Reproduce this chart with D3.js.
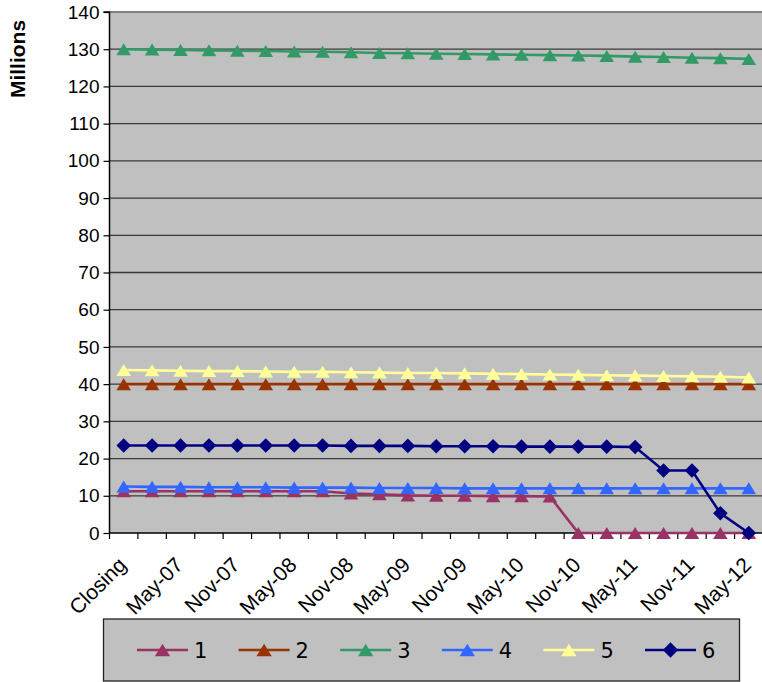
<!DOCTYPE html>
<html><head><meta charset="utf-8">
<script src="https://cdn.jsdelivr.net/npm/d3@7"></script>
<style>body{margin:0;background:#fff;}svg{display:block;}</style>
</head><body>
<svg id="c" width="762" height="682"></svg>
<script>
const categories = ["Closing","Feb-07","May-07","Aug-07","Nov-07","Feb-08","May-08","Aug-08","Nov-08","Feb-09","May-09","Aug-09","Nov-09","Feb-10","May-10","Aug-10","Nov-10","Feb-11","May-11","Aug-11","Nov-11","Feb-12","May-12"];
const seriesNames = ["1","2","3","4","5","6"];
const s1 = [11.2,11.2,11.2,11.2,11.2,11.2,11.2,11.2,10.6,10.4,10.1,10.0,10.0,9.9,9.9,9.8,0,0,0,0,0,0,0];
const s2 = [40,40,40,40,40,40,40,40,40,40,40,40,40,40,40,40,40,40,40,40,40,40,40];
const s3 = [130,129.9,129.8,129.7,129.6,129.5,129.4,129.3,129.2,129.0,128.9,128.8,128.7,128.6,128.5,128.4,128.3,128.2,128.0,127.9,127.7,127.6,127.4];
const s4 = [12.5,12.4,12.4,12.3,12.3,12.3,12.2,12.2,12.2,12.1,12.1,12.1,12.0,12.0,12.0,12.0,12.0,12.0,12.0,12.0,12.0,12.0,12.0];
const s5 = [43.8,43.7,43.6,43.5,43.5,43.4,43.3,43.3,43.2,43.1,43.0,43.0,42.9,42.8,42.7,42.6,42.5,42.4,42.3,42.2,42.1,42.0,41.8];
const s6 = [23.5,23.5,23.5,23.5,23.5,23.5,23.5,23.5,23.4,23.4,23.4,23.3,23.3,23.3,23.2,23.2,23.2,23.2,23.1,16.8,16.8,5.3,0];
const yTicks = [0,10,20,30,40,50,60,70,80,90,100,110,120,130,140];
const xLabels = ["Closing","May-07","Nov-07","May-08","Nov-08","May-09","Nov-09","May-10","Nov-10","May-11","Nov-11","May-12"];

const colors = ["#993366","#993300","#339966","#3366FF","#FFFF99","#000080"];
const shapes = ["tri","tri","tri","tri","tri","dia"];
const data = [s1,s2,s3,s4,s5,s6];

const svg = d3.select("#c");
const L = 109.5, R = 763, T = 12, B = 533;
const x = d3.scaleBand().domain(categories).range([L, R]);
const y = d3.scaleLinear().domain([0,140]).range([B, T]);
const font = "'Liberation Sans', Arial, sans-serif";

svg.append("rect").attr("x", L).attr("y", T).attr("width", R-L).attr("height", B-T).attr("fill", "#C0C0C0");

svg.append("g").selectAll("line").data(yTicks.filter(d=>d>0 && d<140)).join("line")
  .attr("x1", L).attr("x2", R).attr("y1", d=>y(d)).attr("y2", d=>y(d))
  .attr("stroke", "#3a3a3a").attr("stroke-width", 1.3);
svg.append("line").attr("x1", L).attr("x2", R).attr("y1", T).attr("y2", T).attr("stroke", "#808080").attr("stroke-width", 2);

const ya = d3.axisLeft(y).tickValues(yTicks).tickSize(6).tickPadding(4).tickFormat(d3.format("d"));
const yg = svg.append("g").attr("transform", `translate(${L},0)`).call(ya);
yg.select(".domain").attr("stroke", "#000").attr("stroke-width", 1.5).attr("d", `M-6,${y(140)}H0V${B}`);
yg.selectAll(".tick line").attr("stroke", "#000").attr("stroke-width", 1.2);
yg.selectAll("text").attr("font-family", font).attr("font-size", 19).attr("fill", "#000");

const xg = svg.append("g");
xg.append("line").attr("x1", L).attr("x2", R).attr("y1", B).attr("y2", B).attr("stroke", "#000").attr("stroke-width", 1.5);
const bounds = categories.map(c => x(c));
xg.selectAll("line.t").data(bounds).join("line").attr("class","t")
  .attr("x1", d=>d).attr("x2", d=>d).attr("y1", B).attr("y2", B+6).attr("stroke", "#000").attr("stroke-width", 1.2);
xg.selectAll("text").data(xLabels).join("text")
  .attr("transform", (d,i) => `translate(${x(categories[i*2]) + x.bandwidth()/2 - 1.5},${B+28}) rotate(-45)`)
  .attr("text-anchor", "end").attr("dy", "0.35em")
  .attr("font-family", font).attr("font-size", 21).attr("fill", "#000").text(d=>d);

svg.append("text").attr("transform", "translate(25,59) rotate(-90)").attr("text-anchor", "middle")
  .attr("font-family", font).attr("font-size", 21).attr("font-weight", "bold").text("Millions");

const cx = i => x(categories[i]) + x.bandwidth()/2;
const line = d3.line().x((d,i)=>cx(i)).y(d=>y(d));
const markerPath = (s, k) => s === "tri"
  ? `M0,${-6*k}L${7.3*k},${6*k}L${-7.3*k},${6*k}Z`
  : `M0,${-7.3*k}L${7.3*k},0L0,${7.3*k}L${-7.3*k},0Z`;

data.forEach((vals, k) => {
  const g = svg.append("g");
  g.append("path").attr("d", line(vals)).attr("fill","none").attr("stroke", colors[k]).attr("stroke-width", 2.6);
  g.selectAll("path.m").data(vals).join("path").attr("class","m")
    .attr("d", markerPath(shapes[k], 1))
    .attr("transform", (d,i)=>`translate(${cx(i)},${y(d)})`)
    .attr("fill", colors[k]);
});

const lg = svg.append("g");
lg.append("rect").attr("x", 103.5).attr("y", 619).attr("width", 636).attr("height", 62)
  .attr("fill", "#C0C0C0").attr("stroke", "#222").attr("stroke-width", 1.3);
const lx = d3.scalePoint().domain(seriesNames).range([137, 645]);
seriesNames.forEach((n,k) => {
  const x0 = lx(n);
  lg.append("line").attr("x1", x0).attr("x2", x0+51).attr("y1", 650).attr("y2", 650).attr("stroke", colors[k]).attr("stroke-width", 2.6);
  lg.append("path").attr("d", markerPath(shapes[k], 1.05)).attr("transform", `translate(${x0+25.5},650)`).attr("fill", colors[k]);
  lg.append("text").attr("x", x0+57).attr("y", 650).attr("dy", "0.36em").attr("font-family", "'DejaVu Sans', sans-serif").attr("font-size", 21).attr("fill","#000").text(n);
});
</script>
</body></html>
